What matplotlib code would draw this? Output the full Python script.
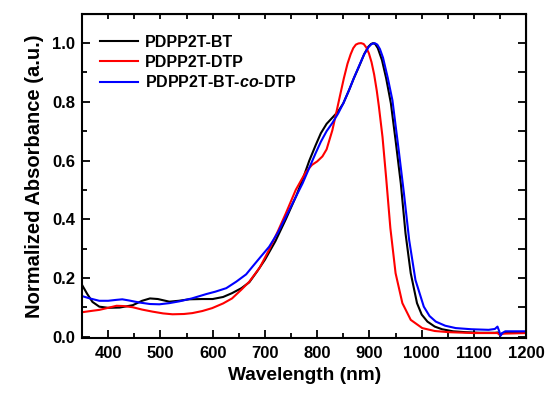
import numpy as np
import matplotlib
matplotlib.use("Agg")
import matplotlib.pyplot as plt
from matplotlib.ticker import MultipleLocator, NullFormatter

plt.rcParams['font.family'] = ['Liberation Sans', 'DejaVu Sans']
plt.rcParams['font.weight'] = 'bold'
plt.rcParams['mathtext.fontset'] = 'custom'
plt.rcParams['mathtext.it'] = 'Liberation Sans:italic:bold'
plt.rcParams['mathtext.rm'] = 'Liberation Sans:bold'

# PDPP2T-BT
wl_bt = [350, 360, 370, 383, 400, 422, 447, 465, 480, 495, 517, 535, 555, 580,
         600, 620, 637, 655, 670, 685, 700, 720, 740, 760, 772, 785, 797, 807,
         818, 829, 840, 850, 861, 870, 880, 890, 898, 903, 907, 911, 916, 924,
         932, 937, 941, 950, 960, 969, 979, 991, 1000, 1011, 1025, 1039, 1060,
         1084, 1110, 1140, 1146, 1150, 1153, 1160, 1200]
abs_bt = [0.176, 0.145, 0.118, 0.102, 0.098, 0.099, 0.107, 0.122, 0.130, 0.128,
          0.119, 0.122, 0.127, 0.128, 0.128, 0.135, 0.148, 0.165, 0.185, 0.222,
          0.262, 0.325, 0.400, 0.480, 0.535, 0.600, 0.652, 0.693, 0.725, 0.746,
          0.767, 0.795, 0.840, 0.880, 0.920, 0.963, 0.988, 0.997, 1.000, 0.997,
          0.983, 0.942, 0.880, 0.833, 0.795, 0.669, 0.522, 0.352, 0.216, 0.114,
          0.075, 0.051, 0.034, 0.025, 0.018, 0.015, 0.013, 0.013, 0.014, 0.006,
          0.010, 0.013, 0.013]

# PDPP2T-DTP
wl_dtp = [350, 370, 383, 400, 416, 430, 447, 465, 485, 505, 523, 545, 561, 580,
          599, 620, 637, 655, 670, 690, 708, 725, 740, 759, 770, 778, 790, 800,
          810, 818, 829, 838, 845, 851, 858, 864, 869, 874, 879, 884, 889, 894,
          899, 904, 909, 914, 918, 925, 932, 940, 950, 963, 979, 1001, 1025,
          1052, 1100, 1145, 1150, 1155, 1200]
abs_dtp = [0.083, 0.088, 0.091, 0.098, 0.105, 0.104, 0.100, 0.092, 0.085, 0.079,
           0.076, 0.077, 0.080, 0.087, 0.097, 0.113, 0.130, 0.160, 0.187, 0.235,
           0.296, 0.360, 0.420, 0.500, 0.535, 0.560, 0.585, 0.597, 0.614, 0.638,
           0.703, 0.775, 0.832, 0.880, 0.930, 0.962, 0.983, 0.995, 0.999, 1.000,
           0.997, 0.985, 0.965, 0.935, 0.893, 0.838, 0.785, 0.680, 0.540, 0.370,
           0.216, 0.114, 0.057, 0.029, 0.019, 0.015, 0.012, 0.012, 0.005, 0.010,
           0.012]

# PDPP2T-BT-co-DTP
wl_co = [350, 365, 383, 400, 415, 427, 440, 460, 480, 498, 517, 536, 560, 588,
         605, 626, 645, 664, 676, 690, 708, 725, 740, 756, 772, 788, 797, 807,
         818, 829, 840, 850, 861, 870, 880, 890, 898, 904, 910, 915, 920, 926,
         935, 944, 956, 966, 976, 988, 1004, 1015, 1027, 1045, 1065, 1095, 1128,
         1140, 1145, 1148, 1151, 1154, 1160, 1200]
abs_co = [0.138, 0.130, 0.122, 0.122, 0.125, 0.127, 0.123, 0.116, 0.111, 0.110,
          0.114, 0.120, 0.130, 0.145, 0.153, 0.165, 0.187, 0.212, 0.238, 0.268,
          0.306, 0.355, 0.408, 0.465, 0.522, 0.588, 0.625, 0.664, 0.700, 0.728,
          0.760, 0.795, 0.840, 0.880, 0.922, 0.962, 0.986, 0.997, 1.000, 0.995,
          0.980, 0.950, 0.882, 0.805, 0.635, 0.488, 0.329, 0.193, 0.102, 0.070,
          0.051, 0.037, 0.029, 0.025, 0.023, 0.026, 0.034, 0.020, 0.003, 0.012,
          0.018, 0.018]

fig = plt.figure(figsize=(5.47, 3.94), dpi=100)
ax = fig.add_axes([0.150, 0.142, 0.812, 0.823])

ax.plot(wl_bt, abs_bt, color='black', lw=1.5, label='PDPP2T-BT')
ax.plot(wl_dtp, abs_dtp, color='red', lw=1.5, label='PDPP2T-DTP')
ax.plot(wl_co, abs_co, color='blue', lw=1.5, label=r'PDPP2T-BT-$\mathit{co}$-DTP')

ax.set_xlim(350, 1200)
ax.set_ylim(-0.005, 1.1)
ax.xaxis.set_major_locator(MultipleLocator(100))
ax.xaxis.set_minor_locator(MultipleLocator(50))
ax.yaxis.set_major_locator(MultipleLocator(0.2))
ax.yaxis.set_minor_locator(MultipleLocator(0.1))
ax.tick_params(which='both', direction='in', width=1.3, labelsize=12)
ax.tick_params(which='major', length=6)
ax.tick_params(which='minor', length=3.5)
ax.tick_params(axis='x', pad=6)
ax.tick_params(axis='y', pad=5)
for sp in ax.spines.values():
    sp.set_linewidth(1.5)

# top and right ticks without labels
top = ax.secondary_xaxis('top')
top.xaxis.set_major_locator(MultipleLocator(50))
top.xaxis.set_major_formatter(NullFormatter())
top.tick_params(direction='in', length=3.5, width=1.3)
right = ax.secondary_yaxis('right')
right.yaxis.set_major_locator(MultipleLocator(0.1))
right.yaxis.set_major_formatter(NullFormatter())
right.tick_params(direction='in', length=6, width=1.3)

ax.set_xlabel('Wavelength (nm)', fontsize=13.8, fontweight='bold', labelpad=4)
ax.set_ylabel('Normalized Absorbance (a.u.)', fontsize=14.5, fontweight='bold',
              labelpad=6)

ax.legend(loc='upper left', bbox_to_anchor=(0.025, 0.955), frameon=False,
          fontsize=11.5, handlelength=2.4, handletextpad=0.45, labelspacing=0.3,
          borderaxespad=0)

fig.savefig('out.png', dpi=100)
